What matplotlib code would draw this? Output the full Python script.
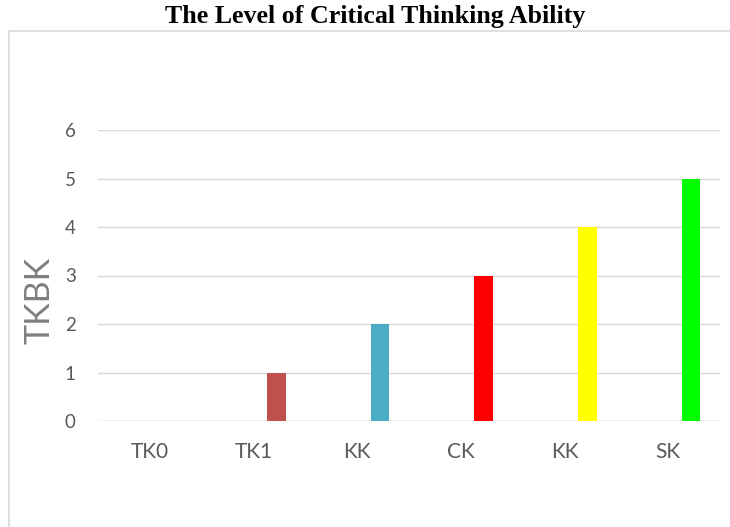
import matplotlib.pyplot as plt
from matplotlib.patches import Rectangle
import numpy as np

# Data
categories = ['TK0', 'TK1', 'KK', 'CK', 'KK', 'SK']
values = [0, 1, 2, 3, 4, 5]
colors = ['#C0504D', '#C0504D', '#4BACC6', '#FF0000', '#FFFF00', '#00FF00']
y_ticks = [0, 1, 2, 3, 4, 5, 6]

fig = plt.figure(figsize=(7.3, 5.27), dpi=100)

# outer chart border
fig.add_artist(Rectangle((9 / 730, -0.05), 1.0, 1 - 30.5 / 527 + 0.05,
                         transform=fig.transFigure, fill=False,
                         edgecolor='#D9D9D9', linewidth=1.2))

fig.text(375 / 730, 1 - 16 / 527, 'The Level of Critical Thinking Ability',
         ha='center', va='center', fontsize=18.6, fontweight='bold',
         family='Liberation Serif')

ax = fig.add_axes([98 / 730, 1 - 421 / 527, 622 / 730, 291 / 527])

x = np.arange(len(categories))
ax.bar(x + 0.22, values, width=0.18, color=colors, zorder=3)

ax.set_xlim(-0.5, len(categories) - 0.5)
ax.set_ylim(0, 6)
ax.set_yticks(y_ticks)
ax.set_xticks(x)
ax.set_xticklabels(categories)

ax.grid(axis='y', color='#D9D9D9', linewidth=1, zorder=0)
for s in ax.spines.values():
    s.set_visible(False)
ax.axhline(0, color='#D9D9D9', linewidth=1, zorder=1)

ax.tick_params(axis='both', length=0, colors='#595959')
ax.tick_params(axis='x', pad=15, labelsize=15)
ax.tick_params(axis='y', pad=16, labelsize=13.5)
for lbl in ax.get_xticklabels() + ax.get_yticklabels():
    lbl.set_family('Lato')

fig.text(40 / 730, 1 - 300 / 527, 'TKBK', rotation=90, ha='center', va='center',
         fontsize=24.5, color='#7F7F7F', family='Lato')

plt.savefig('out.png', dpi=100)
plt.close()
